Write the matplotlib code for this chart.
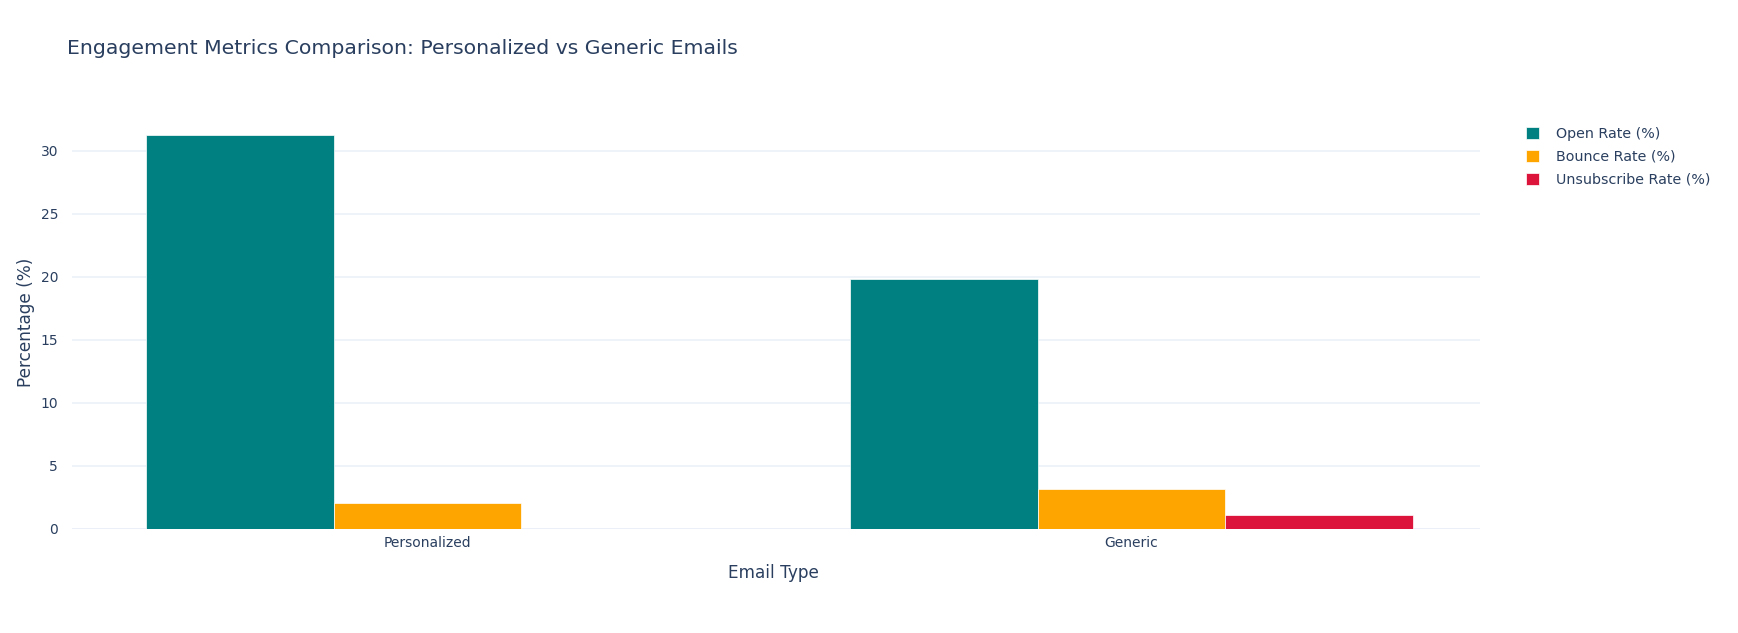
import matplotlib.pyplot as plt
import numpy as np

email_types = ["Personalized", "Generic"]
series_names = ["Open Rate (%)", "Bounce Rate (%)", "Unsubscribe Rate (%)"]
open_rate = [31.2, 19.8]
bounce_rate = [2.1, 3.2]
unsubscribe_rate = [0.0, 1.1]
series_colors = ["#008080", "#FFA500", "#DC143C"]

text_color = "#2a3f5f"
grid_color = "#EBF0F8"

plt.rcParams["font.family"] = ["DejaVu Sans"]

W, H = 1738, 633
fig = plt.figure(figsize=(W / 100, H / 100), dpi=100)

# plot area in pixels
left, right, top, bottom = 72, 1480, 115, 529
ax = fig.add_axes([left / W, 1 - bottom / H, (right - left) / W, (bottom - top) / H])

x = np.arange(len(email_types))
bar_w = 0.8 / 3
for i, (vals, name, col) in enumerate(zip([open_rate, bounce_rate, unsubscribe_rate],
                                          series_names, series_colors)):
    ax.bar(x - 0.4 + bar_w * (i + 0.5), vals, width=bar_w, color=col,
           edgecolor="white", linewidth=0.5, label=name, zorder=3)

ax.set_xlim(-0.505, 1.495)
ax.set_ylim(0, max(open_rate) * 1.052)
ax.set_yticks([0, 5, 10, 15, 20, 25, 30])
ax.set_xticks(x)
ax.set_xticklabels(email_types)

ax.grid(axis="y", color=grid_color, linewidth=1.2, zorder=0)
ax.axhline(0, color=grid_color, linewidth=2, zorder=2)
for s in ax.spines.values():
    s.set_visible(False)
ax.tick_params(axis="both", length=0, labelsize=10, colors=text_color)
ax.tick_params(axis="y", pad=10)
ax.tick_params(axis="x", pad=5)

ax.set_xlabel("Email Type", fontsize=12.2, color=text_color)
ax.set_ylabel("Percentage (%)", fontsize=12.2, color=text_color)
ax.xaxis.set_label_coords(0.5 - 0.002, (bottom - 573) / (bottom - top))
ax.yaxis.set_label_coords((26 - left) / (right - left), 0.5)
ax.xaxis.label.set_va("center")
ax.yaxis.label.set_va("center")

fig.text(67 / W, 1 - 49 / H, "Engagement Metrics Comparison: Personalized vs Generic Emails",
         fontsize=14.7, color=text_color, va="center", ha="left")

leg = ax.legend(loc="upper left", bbox_to_anchor=(1526 / W, 1 - 127 / H),
                bbox_transform=fig.transFigure, frameon=False, borderpad=0,
                borderaxespad=0, fontsize=10.3, labelcolor=text_color,
                handlelength=0.9, handleheight=0.9, handletextpad=1.2,
                labelspacing=0.62)

plt.savefig("out.png", dpi=100)
plt.close()
